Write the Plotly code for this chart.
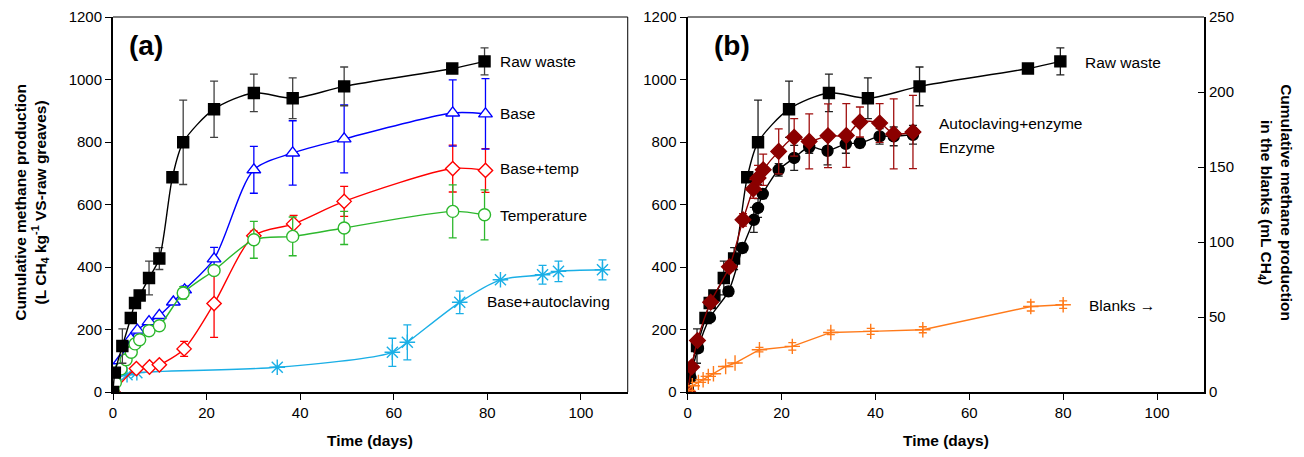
import plotly.graph_objects as go

# ---------------- Data ----------------
# Raw waste (shared by both panels)
raw_days = [0, 0.4, 2, 3.8, 4.7, 5.7, 7.7, 9.9, 12.7, 15, 21.6, 30.1, 38.4, 49.4, 72.5, 79.4]
raw_vals = [0, 62, 147, 237, 285, 309, 365, 427, 687, 799, 905, 957, 940, 978, 1035, 1058]
raw_err = [0, 0, 55, 0, 0, 0, 54, 35, 0, 135, 90, 60, 65, 62, 0, 43]

# Panel (a)
base_days = [0, 1.5, 3.8, 5.2, 7.7, 9.9, 12.9, 15.3, 21.6, 30.1, 38.4, 49.4, 72.6, 79.6]
base_vals = [0, 100, 170, 198, 225, 245, 288, 327, 426, 711, 765, 810, 893, 890]
base_err = [0, 0, 0, 0, 0, 0, 0, 12, 37, 75, 103, 109, 106, 113]

btemp_days = [0, 5, 7.8, 9.9, 15.2, 21.6, 30.1, 38.6, 49.4, 72.6, 79.6]
btemp_vals = [0, 75, 80, 87, 138, 283, 500, 538, 610, 715, 709]
btemp_err = [0, 0, 0, 0, 24, 108, 15, 27, 48, 75, 70]

temp_days = [0, 0.5, 1.7, 2.8, 3.9, 4.7, 5.7, 7.7, 9.9, 15, 21.6, 30.1, 38.4, 49.4, 72.6, 79.4]
temp_vals = [5, 30, 74, 103, 127, 154, 167, 196, 212, 317, 389, 487, 498, 525, 578, 567]
temp_err = [0, 0, 0, 0, 0, 0, 0, 0, 0, 20, 0, 59, 62, 53, 85, 80]

bauto_days = [0, 0.2, 3, 5.1, 35.1, 59.7, 62.9, 74.1, 82.8, 91.8, 95.2, 104.6]
bauto_vals = [0, 40, 55, 62, 79, 127, 159, 287, 359, 375, 386, 391]
bauto_err = [0, 0, 0, 0, 0, 45, 56, 36, 0, 30, 33, 32]

# Panel (b)
enz_days = [0, 0.6, 2.2, 4.75, 8.7, 11.7, 14.1, 15, 16, 19.4, 22.7, 25.9, 29.8, 33.7, 36.7, 40.9, 43.9, 48]
enz_vals = [0, 45, 140, 238, 322, 461, 551, 589, 634, 711, 749, 784, 772, 794, 797, 818, 818, 823]
enz_err = [0, 0, 0, 0, 15, 15, 40, 30, 15, 20, 40, 20, 45, 30, 15, 25, 30, 30]

aenz_days = [0, 0.85, 2.1, 4.9, 8.9, 11.8, 14, 15, 16.1, 19.4, 22.7, 25.9, 29.9, 33.8, 36.7, 40.9, 43.9, 48]
aenz_vals = [0, 80, 165, 287, 401, 551, 650, 685, 711, 770, 815, 802, 820, 821, 864, 861, 826, 832]
aenz_err = [0, 0, 0, 0, 15, 20, 30, 40, 50, 72, 60, 88, 102, 102, 48, 62, 112, 117]

blank_days = [0, 1, 2.3, 3.3, 4.4, 5.5, 8.1, 10.1, 15.3, 22.3, 30.5, 39, 50.1, 73.1, 80]
blank_vals = [1, 4.2, 6.4, 8.2, 10.4, 12.2, 17, 19.3, 28.2, 30.4, 39.7, 40.4, 41.5, 57, 58.2]
blank_err = [0, 0, 0, 0, 0, 0, 0, 0, 1.5, 2.5, 1.5, 2, 2, 3, 2.5]

x_ticks = [0, 20, 40, 60, 80, 100]
y_ticks = [0, 200, 400, 600, 800, 1000, 1200]
y2_ticks = [0, 50, 100, 150, 200, 250]

# ---------------- Styling ----------------
FONT = "Arial, Liberation Sans, sans-serif"
BLACK = "#000000"
BLUE = "#0000FF"
RED = "#FF0000"
GREEN = "#2DB82D"
CYAN = "#1AAFE6"
DRED = "#8B0000"
ORANGE = "#FF7A1A"

fig = go.Figure()


def add(xs, ys, err, name, color, symbol, size, xa, ya, ecolor=None, shape="spline", fill=None, lw=1.4):
    fig.add_trace(go.Scatter(
        x=xs, y=ys, name=name, mode="lines+markers",
        xaxis=xa, yaxis=ya, cliponaxis=True,
        line=dict(color=color, width=lw, shape=shape, smoothing=0.8),
        marker=dict(symbol=symbol, size=size, color=fill if fill else color,
                    line=dict(color=color, width=1.4)),
        error_y=dict(type="data", array=err, visible=True,
                     color=ecolor if ecolor else color, thickness=1.3, width=4),
        showlegend=False,
    ))


# Panel (a)
add(bauto_days, bauto_vals, bauto_err, "Base+autoclaving", CYAN, "asterisk-open", 13, "x", "y")
add(btemp_days, btemp_vals, btemp_err, "Base+temp", RED, "diamond", 11, "x", "y", fill="white")
add(base_days, base_vals, base_err, "Base", BLUE, "triangle-up", 12, "x", "y", fill="white")
add(temp_days, temp_vals, temp_err, "Temperature", GREEN, "circle", 12, "x", "y", fill="white")
add(raw_days, raw_vals, raw_err, "Raw waste", BLACK, "square", 11, "x", "y", ecolor="#404040")

# Panel (b)
add(blank_days, blank_vals, blank_err, "Blanks", ORANGE, "cross-thin-open", 11, "x2", "y4", shape="linear")
add(raw_days, raw_vals, raw_err, "Raw waste", BLACK, "square", 11, "x2", "y3", ecolor="#202020")
add(enz_days, enz_vals, enz_err, "Enzyme", BLACK, "circle", 11, "x2", "y3", ecolor="#202020")
add(aenz_days, aenz_vals, aenz_err, "Autoclaving+enzyme", DRED, "diamond", 12, "x2", "y3", ecolor="#A01010")

tickfont = dict(family=FONT, size=15, color="black")
common_x = dict(range=[0, 110], tickvals=x_ticks, ticks="outside", ticklen=6, tickwidth=1.3,
                tickcolor="black", showline=True, linewidth=2, linecolor="black",
                showgrid=False, zeroline=False, tickfont=tickfont, automargin=False)
common_y = dict(domain=[0, 1], range=[0, 1200], tickvals=y_ticks, ticks="outside",
                ticklen=6, tickwidth=1.3, tickcolor="black", showline=True, linewidth=2,
                linecolor="black", showgrid=False, zeroline=False, tickfont=tickfont,
                automargin=False)

fig.update_layout(
    width=1304, height=457,
    margin=dict(l=113, r=100, t=17, b=65, autoexpand=False),
    paper_bgcolor="white", plot_bgcolor="white",
    xaxis=dict(domain=[0, 0.4718], anchor="y", **common_x),
    xaxis2=dict(domain=[0.5267, 1], anchor="y3", **common_x),
    yaxis=dict(anchor="x", **common_y),
    yaxis3=dict(anchor="x2", **common_y),
    yaxis4=dict(domain=[0, 1], anchor="x2", overlaying="y3", side="right", range=[0, 250],
                tickvals=y2_ticks, ticks="inside", ticklen=6, tickwidth=1.3, tickcolor="black",
                showline=True, linewidth=2, linecolor="black", showgrid=False, zeroline=False,
                tickfont=tickfont, automargin=False),
)

# thin frame lines (top of both panels, right of panel a)
fig.add_shape(type="line", xref="x domain", yref="y domain", x0=0, x1=1, y0=1, y1=1,
              line=dict(color="black", width=1))
fig.add_shape(type="line", xref="x domain", yref="y domain", x0=1, x1=1, y0=0, y1=1,
              line=dict(color="black", width=1))
fig.add_shape(type="line", xref="x2 domain", yref="y3 domain", x0=0, x1=1, y0=1, y1=1,
              line=dict(color="black", width=1))

lab = dict(family=FONT, size=15.5, color="black")
bold_title = dict(family=FONT, size=15.5, color="black", weight="bold")


def note(x, y, text, xref, yref, font=lab, xanchor="left", **kw):
    fig.add_annotation(x=x, y=y, xref=xref, yref=yref, text=text, showarrow=False,
                       xanchor=xanchor, yanchor="middle", font=font, **kw)


# Series labels, panel (a)
note(82.2, 1057, "Raw waste", "x", "y")
note(82.2, 890, "Base", "x", "y")
note(82.2, 714, "Base+temp", "x", "y")
note(82.2, 564, "Temperature", "x", "y")
note(79.6, 289, "Base+autoclaving", "x", "y")
# Series labels, panel (b)
note(84.2, 1054, "Raw waste", "x2", "y3")
note(53.1, 859, "Autoclaving+enzyme", "x2", "y3")
note(53.1, 782, "Enzyme", "x2", "y3")
note(85.1, 58, "Blanks \u2192", "x2", "y4")

# Panel letters
big = dict(family=FONT, size=28, color="black", weight="bold")
note(3, 1110, "(a)", "x", "y", font=big)
note(5.2, 1110, "(b)", "x2", "y3", font=big)

# Axis titles
note(-0.075, 0.505, "Cumulative methane production<br>(L CH<sub>4</sub> kg<sup>-1</sup> VS-raw greaves)",
     "paper", "paper", font=bold_title, xanchor="center", textangle=-90)
note(1.0655, 0.505, "Cumulative methane production<br>in the blanks (mL CH<sub>4</sub>)",
     "paper", "paper", font=bold_title, xanchor="center", textangle=90)
note(0.5, -0.13, "Time (days)", "x domain", "paper", font=bold_title, xanchor="center")
note(0.5, -0.13, "Time (days)", "x2 domain", "paper", font=bold_title, xanchor="center")

fig.write_html("out.html", config={"displayModeBar": False},
               post_script="document.body.style.margin='0';document.body.style.overflow='hidden';")
